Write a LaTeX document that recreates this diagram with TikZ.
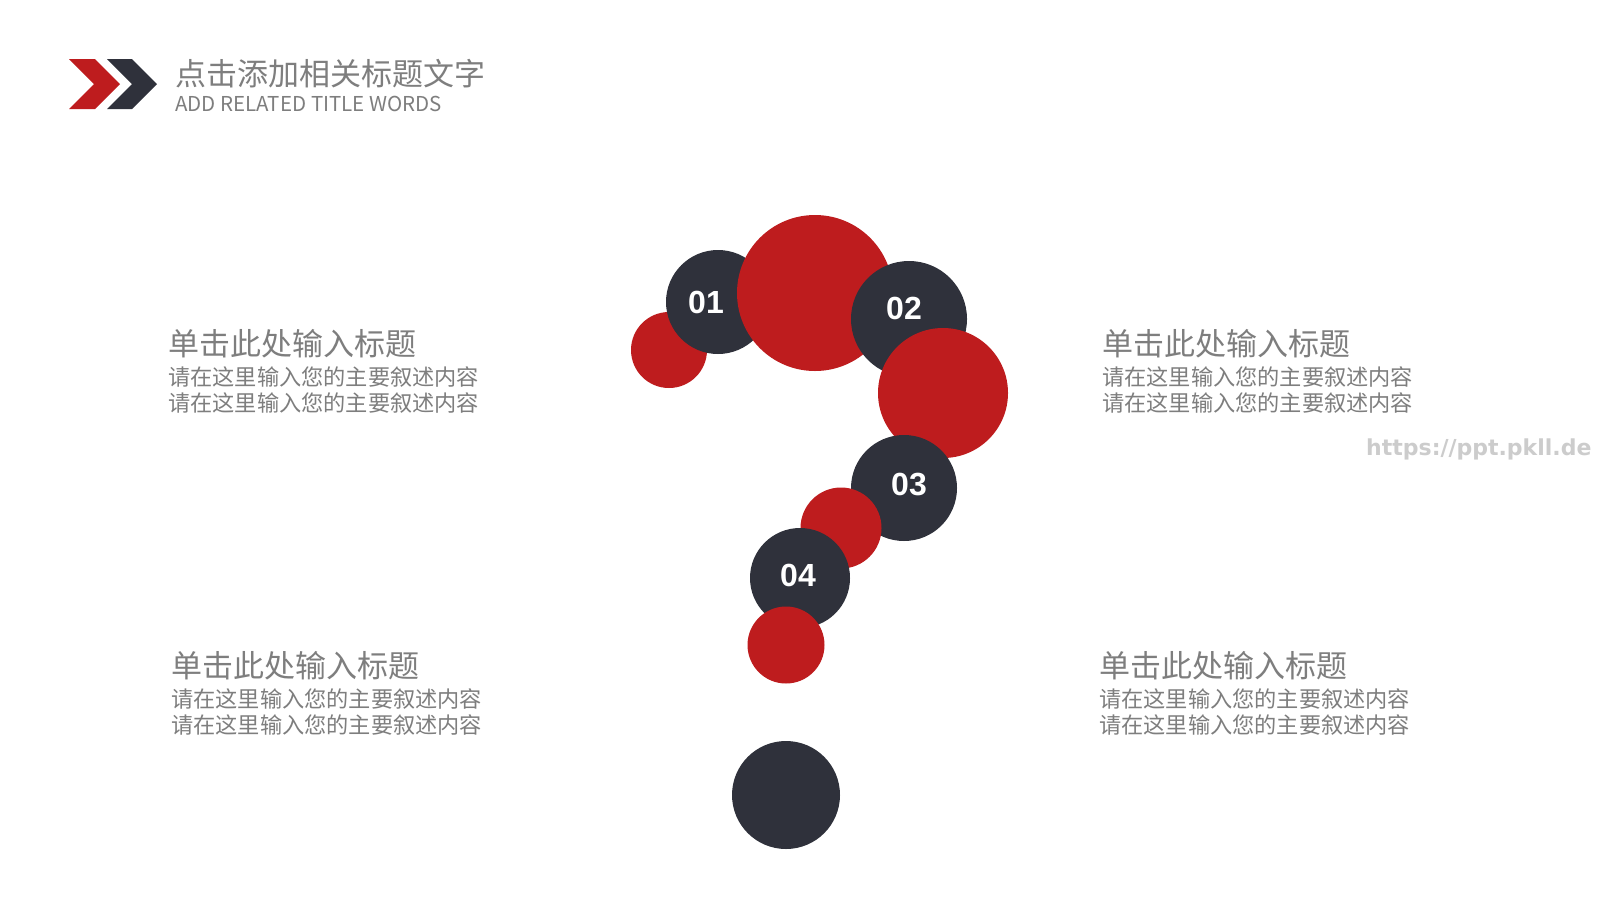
\documentclass[tikz,border=0pt]{standalone}
\usepackage{fontspec}
\setmainfont{Noto Sans CJK SC}
\newfontfamily\numfont{Liberation Sans}
\newfontfamily\urlfont{DejaVu Sans}
\definecolor{qred}{HTML}{BE1C1E}
\definecolor{qdark}{HTML}{2F313B}
\definecolor{qgray}{HTML}{7E7E7E}
\tikzset{
  redball/.style={circle, fill=qred, inner sep=0pt, minimum size=#1},
  darkball/.style={circle, fill=qdark, inner sep=0pt, minimum size=#1},
  numtext/.style={text=white, inner sep=0pt, font=\numfont\bfseries\fontsize{32}{32}\selectfont},
  headtext/.style={anchor=west, inner sep=0pt, text=qgray, font=\fontsize{31}{31}\selectfont},
  bodytext/.style={anchor=west, inner sep=0pt, text=qgray, font=\fontsize{22.2}{22.2}\selectfont}
}
\begin{document}
\begin{tikzpicture}[x=1pt, y=-1pt, line join=round]
\useasboundingbox[fill=white] (0,0) rectangle (1600,900);
% chevrons
\fill[qred] (69,59)--(95,59)--(120,84)--(95,109)--(69,109)--(94,84)--cycle;
\fill[qdark] (107,59)--(132,59)--(157,84)--(132,109)--(107,109)--(132,84)--cycle;
\node[headtext] (title) at (175,74) {点击添加相关标题文字};
\node[anchor=west, inner sep=0pt, text=qgray, font=\fontsize{20.5}{20.5}\selectfont] (subtitle) at (175,104) {ADD RELATED TITLE WORDS};
% question mark
\node[redball=76pt] (rA) at (669,350) {};
\node[darkball=104pt] (n1) at (718,302) {};
\node[redball=156pt] (rB) at (815,293) {};
\node[darkball=116pt] (n2) at (909,319) {};
\node[redball=130pt] (rC) at (943,393) {};
\node[darkball=106pt] (n3) at (904,488) {};
\node[redball=81pt] (rD) at (841,528) {};
\node[darkball=100pt] (n4) at (800,578) {};
\node[redball=77pt] (rE) at (786,645) {};
\node[darkball=108pt] (dot) at (786,795) {};
\foreach \p/\q/\t in {706/302/01,904/308/02,909/484/03,798/575/04}
  \node[numtext] (num\t) at (\p,\q) {\t};
% text blocks
\foreach \p/\q [count=\i] in {168/344,1102/344,171/666,1099/666}
{
  \node[headtext] (head\i) at (\p,\q) {单击此处输入标题};
  \node[bodytext] (lineA\i) at (\p,\q+33) {请在这里输入您的主要叙述内容};
  \node[bodytext] (lineB\i) at (\p,\q+59) {请在这里输入您的主要叙述内容};
}
\node[anchor=west, inner sep=0pt, text=black!20, font=\urlfont\bfseries\fontsize{22}{22}\selectfont] (url) at (1366,449) {https://ppt.pkll.de};
\end{tikzpicture}
\end{document}
